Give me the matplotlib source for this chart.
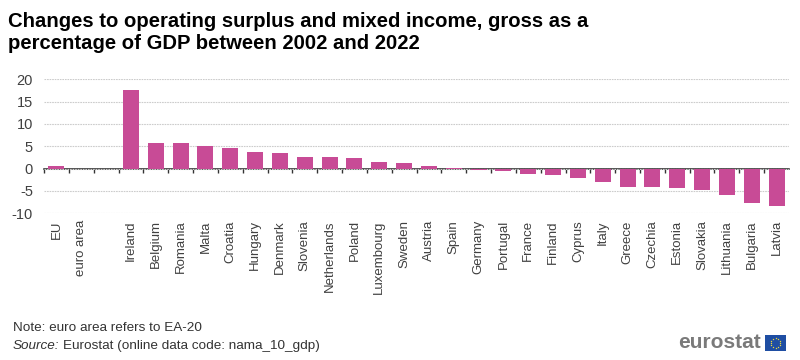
import matplotlib
matplotlib.use("Agg")
import matplotlib.pyplot as plt
from matplotlib.patches import Rectangle
import numpy as np

plt.rcParams['font.family'] = ['Liberation Sans', 'DejaVu Sans']
plt.rcParams['axes.unicode_minus'] = False

categories = ["EU", "euro area", "", "Ireland", "Belgium", "Romania", "Malta", "Croatia",
              "Hungary", "Denmark", "Slovenia", "Netherlands", "Poland", "Luxembourg",
              "Sweden", "Austria", "Spain", "Germany", "Portugal", "France", "Finland",
              "Cyprus", "Italy", "Greece", "Czechia", "Estonia", "Slovakia", "Lithuania",
              "Bulgaria", "Latvia"]
values = [0.6, np.nan, np.nan, 17.6, 5.7, 5.7, 5.1, 4.6, 3.7, 3.4, 2.7, 2.5, 2.3, 1.4,
          1.2, 0.5, 0.2, -0.2, -0.5, -1.2, -1.4, -2.2, -2.9, -4.1, -4.1, -4.3, -4.8,
          -5.9, -7.8, -8.4]
yticks = [-10, -5, 0, 5, 10, 15, 20]
title = "Changes to operating surplus and mixed income, gross as a\npercentage of GDP between 2002 and 2022"

W, H = 800, 360
fig = plt.figure(figsize=(W / 100, H / 100), dpi=100, facecolor="white")
ax = fig.add_axes([44 / W, 1 - 213.3 / H, 745 / W, 134 / H])

x = np.arange(len(categories))
ax.bar(x, values, width=0.65, color="#c84b96", zorder=3)
ax.set_xlim(-0.5, len(categories) - 0.5)
ax.set_ylim(-10, 20)

ax.set_yticks(yticks)
ax.yaxis.grid(True, color="#cccccc", linestyle=(0, (1.5, 0.8)), linewidth=0.8)
ax.set_axisbelow(True)
ax.tick_params(axis="y", length=0, labelsize=10.5, labelcolor="#404040", pad=8)
ax.set_xticks(x)
ax.set_xticklabels(categories, rotation=90, ha="center", va="top", fontsize=9.5, color="#404040")
ax.tick_params(axis="x", length=0, pad=5)
for s in ax.spines.values():
    s.set_visible(False)

zero_axis = ax.secondary_xaxis(1 / 3)
zero_axis.set_xticks(np.arange(len(categories)) - 0.5)
zero_axis.tick_params(axis="x", direction="out", length=3, width=1, color="#333333", labelbottom=False, labeltop=False)
zero_axis.spines["bottom"].set_color("#222222")
zero_axis.spines["bottom"].set_linewidth(1.1)
zero_axis.spines["top"].set_visible(False)

fig.text(8.5 / W, 1 - 32.5 / H, title, fontsize=14.6, fontweight="bold", color="black",
         ha="left", va="center", linespacing=1.26)
fig.text(13 / W, 1 - 328 / H, "Note: euro area refers to EA-20", fontsize=9.7, color="#333333", va="center")
fig.text(13 / W, 1 - 346 / H, "Source:", fontsize=9.7, color="#333333", va="center", style="italic")
fig.text(63 / W, 1 - 346 / H, "Eurostat (online data code: nama_10_gdp)", fontsize=9.7, color="#333333", va="center")

fig.text(761 / W, 1 - 343 / H, "eurostat", fontsize=15, fontweight="bold", color="#7a7a7a", ha="right", va="center")
fig.add_artist(Rectangle((765 / W, 1 - 351 / H), 21 / W, 16 / H, transform=fig.transFigure,
                         facecolor="#1f4ea3", edgecolor="none"))
angles = np.arange(12) * np.pi / 6
fig.add_artist(plt.Line2D((775.5 + 4.8 * np.cos(angles)) / W, 1 - (343 + 4.8 * np.sin(angles)) / H,
                          transform=fig.transFigure, linestyle="none", marker="o", markersize=1,
                          markerfacecolor="#e8d840", markeredgecolor="none"))

fig.savefig("out.png", dpi=100)
